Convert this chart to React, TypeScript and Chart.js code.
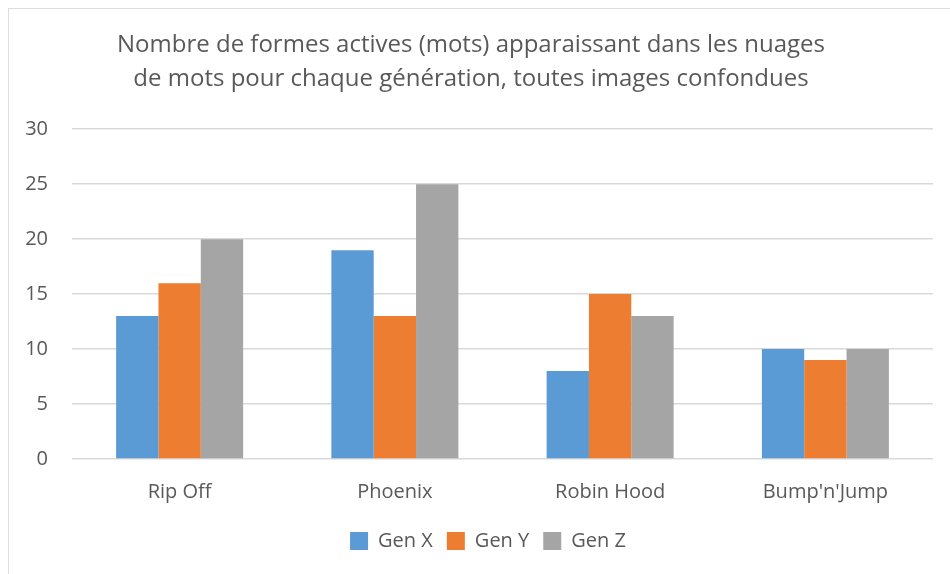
import React, { useEffect, useRef } from "react";
import { Chart, registerables } from "chart.js";

Chart.register(...registerables);

const titleLines = [
  "Nombre de formes actives (mots) apparaissant dans les nuages",
  "de mots pour chaque génération, toutes images confondues",
];
const categories = ["Rip Off", "Phoenix", "Robin Hood", "Bump'n'Jump"];
const seriesNames = ["Gen X", "Gen Y", "Gen Z"];
const genX = [13, 19, 8, 10];
const genY = [16, 13, 15, 9];
const genZ = [20, 25, 13, 10];
const colors = ["#5B9BD5", "#ED7D31", "#A5A5A5"];
const yMin = 0;
const yMax = 30;
const yStep = 5;

const FONT = "'Open Sans', sans-serif";
const TEXT = "#595959";

const legendShift = {
  id: "legendShift",
  afterLayout(chart: any) {
    const lg = chart.legend;
    if (lg) {
      lg.left += 17;
      lg.right += 17;
    }
  },
};

export default function App() {
  const ref = useRef<HTMLCanvasElement | null>(null);
  useEffect(() => {
    if (!ref.current) return;
    const values = [genX, genY, genZ];
    const chart = new Chart(ref.current, {
      type: "bar",
      data: {
        labels: categories,
        datasets: seriesNames.map((n, i) => ({
          label: n,
          data: values[i],
          backgroundColor: colors[i],
          borderWidth: 0,
          categoryPercentage: 0.59,
          barPercentage: 1,
        })),
      },
      options: {
        animation: false,
        responsive: false,
        maintainAspectRatio: false,
        layout: { padding: { left: 0, right: 17, top: 20, bottom: 13 } },
        plugins: {
          title: {
            display: true,
            text: titleLines,
            color: TEXT,
            font: { family: FONT, size: 24, weight: "normal", lineHeight: 1.38 },
            padding: { top: 0, bottom: 34 },
          },
          legend: {
            position: "bottom",
            labels: {
              color: TEXT,
              font: { family: FONT, size: 20 },
              boxWidth: 18,
              boxHeight: 18,
              padding: 14,
            },
          },
          tooltip: { enabled: false },
        },
        scales: {
          x: {
            grid: { display: false },
            border: { display: false },
            ticks: { color: TEXT, font: { family: FONT, size: 20 }, padding: 13 },
          },
          y: {
            min: yMin,
            max: yMax,
            afterFit: (s: any) => {
              s.width = 63;
            },
            ticks: {
              stepSize: yStep,
              color: TEXT,
              font: { family: FONT, size: 20 },
              padding: 24,
            },
            grid: { color: "#d9d9d9", lineWidth: 1.5, drawTicks: false },
            border: { display: false },
          },
        },
      },
      plugins: [legendShift],
    });
    return () => chart.destroy();
  }, []);
  return (
    <div
      style={{
        position: "absolute",
        left: 8,
        top: 8,
        width: 942,
        height: 566,
        borderTop: "1px solid #dcdcdc",
        borderLeft: "1px solid #dcdcdc",
        background: "#fff",
      }}
    >
      <canvas ref={ref} width={941} height={565} style={{ display: "block" }} />
    </div>
  );
}
